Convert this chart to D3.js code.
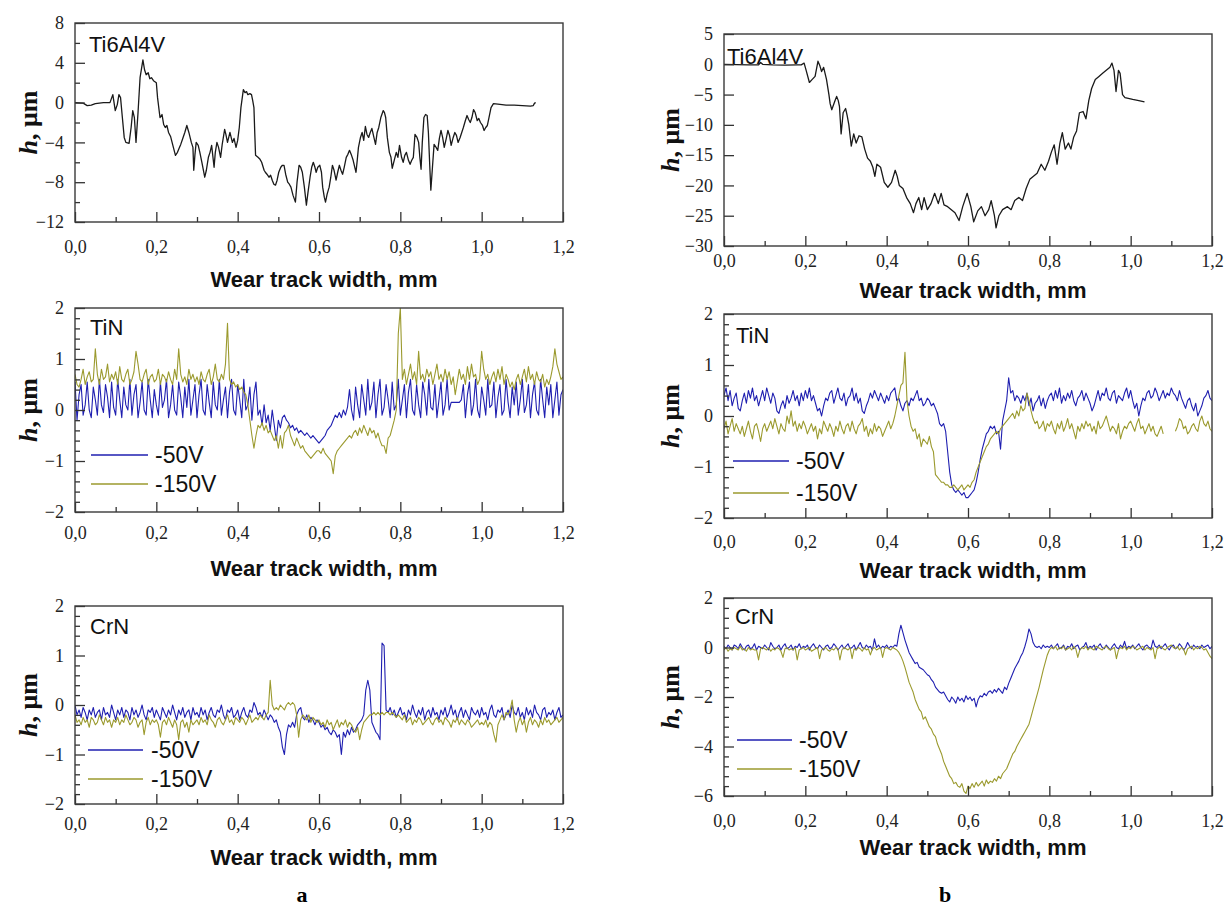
<!DOCTYPE html>
<html>
<head>
<meta charset="utf-8">
<script src="https://cdn.jsdelivr.net/npm/d3@7"></script>
<style>
  body { margin: 0; background: #fff; }
</style>
</head>
<body>
<script>
const STEP = 0.005;

// Ti6Al4V substrate, [x mm, h um]
const tiA = [[0,0],[0.02,-0.05],[0.03,-0.3],[0.04,-0.25],[0.05,-0.1],[0.07,0],[0.086,0],[0.093,0.8],[0.099,-0.8],[0.104,-0.2],[0.108,0.8],[0.112,0.5],[0.116,-1.3],[0.121,-3.5],[0.125,-4],[0.133,-4.1],[0.138,-2.5],[0.142,-0.8],[0.146,-1.5],[0.15,-4],[0.155,-1],[0.16,2.5],[0.167,4.3],[0.171,3.3],[0.175,2.8],[0.18,3.0],[0.184,2.4],[0.188,2.5],[0.193,2.2],[0.2,2.0],[0.203,0.5],[0.209,-1.5],[0.214,-1.2],[0.218,-2.2],[0.222,-2.5],[0.226,-2.3],[0.23,-3.0],[0.235,-3.4],[0.24,-4.2],[0.247,-5.3],[0.252,-5.0],[0.256,-4.6],[0.26,-4.2],[0.265,-3.6],[0.27,-3.0],[0.275,-2.3],[0.28,-3.0],[0.286,-4.0],[0.29,-4.5],[0.292,-6.8],[0.295,-5.2],[0.298,-4.0],[0.303,-4.3],[0.307,-5.0],[0.312,-6.0],[0.319,-7.5],[0.323,-6.8],[0.328,-5.5],[0.332,-5.0],[0.336,-4.3],[0.342,-6.5],[0.345,-5.0],[0.349,-4.0],[0.353,-4.5],[0.358,-5.5],[0.362,-4.2],[0.368,-2.7],[0.371,-3.2],[0.375,-4.0],[0.381,-3.0],[0.387,-4.0],[0.391,-3.6],[0.396,-4.5],[0.4,-3.8],[0.404,-2.5],[0.408,-0.5],[0.414,1.3],[0.418,1.0],[0.422,1.1],[0.425,0.8],[0.43,0.9],[0.434,0.8],[0.437,0.2],[0.44,-0.5],[0.442,-3.0],[0.444,-5.3],[0.45,-5.5],[0.455,-5.7],[0.459,-6.0],[0.465,-6.8],[0.468,-7.0],[0.472,-7.2],[0.477,-7.5],[0.481,-7.3],[0.485,-7.8],[0.489,-8.2],[0.493,-8.3],[0.497,-7.8],[0.501,-7.0],[0.506,-6.5],[0.51,-6.3],[0.514,-6.3],[0.518,-7.2],[0.523,-8.0],[0.527,-8.2],[0.531,-8.5],[0.536,-9.3],[0.542,-10.0],[0.546,-8.0],[0.551,-6.3],[0.555,-6.5],[0.559,-7.0],[0.564,-8.5],[0.569,-10.3],[0.573,-9.0],[0.578,-7.5],[0.582,-6.5],[0.586,-6.0],[0.59,-6.5],[0.593,-7.0],[0.597,-6.5],[0.602,-6.3],[0.606,-7.0],[0.609,-8.5],[0.613,-9.5],[0.616,-10.0],[0.62,-9.2],[0.625,-8.5],[0.629,-7.5],[0.633,-6.3],[0.637,-6.8],[0.642,-7.8],[0.646,-7.0],[0.65,-6.3],[0.654,-6.8],[0.658,-7.2],[0.662,-6.5],[0.667,-5.5],[0.671,-5.2],[0.675,-4.8],[0.68,-5.3],[0.684,-5.8],[0.688,-6.5],[0.691,-7.0],[0.694,-5.8],[0.697,-4.5],[0.702,-3.5],[0.706,-3.0],[0.71,-3.8],[0.714,-2.4],[0.718,-3.2],[0.722,-3.5],[0.726,-3.0],[0.73,-2.6],[0.735,-3.5],[0.739,-4.2],[0.743,-3.0],[0.747,-2.5],[0.752,-1.5],[0.758,-0.8],[0.761,-1.0],[0.764,-1.5],[0.768,-3.5],[0.773,-5.0],[0.777,-5.5],[0.78,-6.6],[0.785,-5.8],[0.79,-5.0],[0.794,-5.5],[0.798,-4.3],[0.803,-5.5],[0.807,-6.0],[0.811,-5.3],[0.815,-5.0],[0.82,-5.8],[0.824,-6.2],[0.828,-5.8],[0.832,-5.5],[0.836,-3.2],[0.841,-3.5],[0.845,-4.0],[0.848,-5.5],[0.851,-6.7],[0.854,-4.0],[0.858,-1.5],[0.862,-1.2],[0.866,-1.3],[0.869,-3.0],[0.872,-6.0],[0.875,-8.8],[0.879,-6.5],[0.883,-4.2],[0.888,-4.5],[0.892,-4.8],[0.896,-3.6],[0.9,-2.8],[0.904,-3.5],[0.908,-4.5],[0.913,-3.6],[0.917,-2.8],[0.921,-3.3],[0.925,-4.3],[0.93,-3.5],[0.934,-3.0],[0.938,-3.3],[0.942,-4.0],[0.947,-3.5],[0.951,-3.0],[0.955,-2.5],[0.96,-1.8],[0.964,-1.3],[0.968,-1.7],[0.972,-2.0],[0.976,-1.5],[0.98,-0.7],[0.984,-1.0],[0.989,-1.8],[0.993,-1.6],[0.997,-2.0],[1.002,-2.3],[1.006,-2.8],[1.01,-2.5],[1.014,-2.3],[1.018,-1.5],[1.023,-0.5],[1.029,-0.1],[1.04,-0.15],[1.06,-0.25],[1.08,-0.25],[1.1,-0.3],[1.12,-0.35],[1.127,-0.3],[1.13,-0.05],[1.133,0]];

const tiB = [[0,0],[0.03,-0.05],[0.06,-0.1],[0.085,-0.1],[0.09,0.3],[0.095,0],[0.12,-0.1],[0.15,-0.15],[0.18,-0.1],[0.19,-0.1],[0.197,0.2],[0.202,-1.0],[0.21,-3.0],[0.217,-2.5],[0.224,-2.0],[0.231,0.5],[0.236,-0.3],[0.24,-1.2],[0.245,-0.5],[0.252,-2.5],[0.258,-5.0],[0.261,-6.5],[0.265,-7.5],[0.272,-6.2],[0.277,-5.3],[0.281,-6.0],[0.284,-7.0],[0.288,-11.5],[0.293,-8.0],[0.299,-7.3],[0.303,-8.5],[0.307,-10.0],[0.313,-13.5],[0.319,-11.5],[0.325,-13.0],[0.332,-11.8],[0.339,-12.0],[0.346,-14.0],[0.353,-15.5],[0.36,-16.0],[0.366,-17.0],[0.371,-18.5],[0.376,-16.5],[0.385,-17.0],[0.394,-19.5],[0.403,-20.3],[0.412,-19.5],[0.421,-17.5],[0.426,-18.5],[0.431,-20.0],[0.44,-20.5],[0.449,-22.0],[0.458,-23.0],[0.466,-24.5],[0.472,-23.0],[0.479,-22.0],[0.486,-24.0],[0.492,-22.0],[0.5,-24.0],[0.509,-23.0],[0.518,-21.3],[0.527,-23.0],[0.534,-21.3],[0.541,-23.2],[0.55,-23.5],[0.559,-24.0],[0.568,-24.5],[0.578,-25.8],[0.587,-23.5],[0.598,-21.3],[0.607,-23.5],[0.614,-26.0],[0.624,-24.2],[0.633,-23.5],[0.642,-25.0],[0.651,-24.0],[0.657,-22.5],[0.665,-25.0],[0.669,-27.0],[0.676,-25.0],[0.685,-24.0],[0.697,-23.5],[0.706,-24.0],[0.715,-22.5],[0.725,-22.0],[0.734,-22.5],[0.743,-20.5],[0.752,-19.0],[0.761,-18.5],[0.77,-18.0],[0.78,-16.5],[0.789,-17.5],[0.798,-16.0],[0.805,-14.5],[0.812,-13.3],[0.819,-16.5],[0.826,-13.0],[0.832,-11.3],[0.839,-14.0],[0.847,-13.0],[0.853,-14.0],[0.86,-12.0],[0.867,-11.0],[0.874,-8.0],[0.883,-7.8],[0.89,-9.0],[0.897,-6.0],[0.904,-4.0],[0.913,-2.5],[0.922,-2.0],[0.931,-1.5],[0.94,-1.0],[0.949,-0.5],[0.954,0.2],[0.959,-1.0],[0.964,-4.5],[0.97,-1.0],[0.974,-1.5],[0.98,-5.0],[0.986,-5.5],[1.005,-5.8],[1.02,-6.0],[1.034,-6.2]];

// TiN, panel a
const tinA50 = [
  0.55,-0.2,0.3,0.5,-0.1,0.1,0.55,0.0,-0.15,0.45,0.2,-0.1,0.6,0.1,-0.05,0.5,0.25,-0.15,0.55,0.05,
  -0.1,0.6,0.2,-0.15,0.45,0.1,0.0,0.6,-0.1,0.3,0.5,-0.15,0.15,0.55,0.0,-0.1,0.6,0.2,-0.15,0.4,
  0.1,-0.1,0.55,0.05,0.2,0.6,-0.15,0.1,0.5,0.0,-0.1,0.55,0.25,-0.15,0.45,0.05,0.6,-0.1,0.2,0.5,
  -0.15,0.3,0.6,0.0,-0.1,0.5,0.15,-0.15,0.55,0.1,0.0,0.6,-0.1,0.2,0.45,-0.15,0.35,0.6,0.0,-0.1,
  0.5,0.2,-0.15,0.6,0.0,0.1,0.45,-0.2,0.3,0.55,-0.1,0.0,-0.3,0.1,-0.25,-0.1,-0.4,0.0,-0.3,-0.6,
  -0.2,-0.35,-0.15,-0.1,-0.2,-0.25,-0.35,-0.3,-0.4,-0.35,-0.45,-0.4,-0.45,-0.5,-0.45,-0.5,-0.55,-0.5,-0.55,-0.6,
  -0.65,-0.6,-0.55,-0.5,-0.4,-0.35,-0.3,-0.2,-0.1,-0.15,-0.05,-0.15,0.0,-0.1,0.05,0.4,0.0,-0.2,0.45,0.1,
  -0.15,0.5,0.2,-0.1,0.6,0.0,0.15,0.55,-0.15,0.3,0.6,-0.1,0.05,0.5,0.2,-0.15,0.55,0.0,0.1,0.6,
  -0.1,0.2,0.5,-0.15,0.35,0.6,0.0,-0.1,0.5,0.1,-0.15,0.55,0.3,-0.1,0.6,0.05,0.0,0.5,-0.15,0.2,
  0.55,-0.1,0.1,0.6,0.0,0.15,0.15,0.15,0.15,0.15,0.2,0.5,-0.15,0.3,0.55,-0.1,0.1,0.6,0.0,-0.15,
  0.45,0.2,-0.1,0.6,0.05,0.1,0.55,-0.15,0.25,0.5,-0.1,0.0,0.6,0.15,-0.15,0.45,0.1,0.55,-0.1,0.2,
  0.6,-0.05,0.1,0.5,-0.15,0.3,0.55,0.0,-0.1,0.6,0.2,-0.15,0.45,0.1,0.5,-0.15,0.2,0.55,-0.1,0.3,
  0.4];
const tinA150 = [
  0.7,0.5,0.45,0.6,0.8,0.5,0.65,0.75,0.55,0.6,1.2,0.7,0.5,0.8,0.6,0.65,0.9,0.55,0.7,0.6,
  0.75,0.5,0.85,0.6,0.55,0.7,0.8,0.5,0.6,0.75,1.15,0.9,0.6,0.55,0.7,0.8,0.5,0.65,0.7,0.55,
  0.6,0.8,0.5,0.7,0.65,0.55,0.75,0.6,0.5,0.8,0.6,1.2,0.7,0.55,0.65,0.5,0.8,0.6,0.7,0.55,
  0.65,0.5,0.75,0.6,0.55,0.7,0.8,0.5,0.65,0.9,0.6,0.55,0.7,0.6,0.9,1.7,0.6,0.5,0.55,0.45,
  0.5,0.4,0.45,0.35,0.3,0.1,-0.2,-0.5,-0.75,-0.5,-0.3,-0.35,-0.25,-0.4,-0.3,-0.45,-0.4,-0.5,-0.6,-0.5,
  -0.75,-0.5,-0.75,-0.45,-0.4,-0.3,-0.5,-0.6,-0.7,-0.55,-0.65,-0.75,-0.7,-0.8,-0.85,-0.9,-0.95,-0.9,-0.85,-0.8,
  -0.8,-0.85,-0.75,-0.85,-0.9,-0.95,-1.0,-1.25,-0.9,-0.8,-0.75,-0.7,-0.65,-0.6,-0.55,-0.5,-0.55,-0.45,-0.4,-0.5,
  -0.35,-0.45,-0.3,-0.4,-0.5,-0.35,-0.45,-0.4,-0.55,-0.45,-0.6,-0.7,-0.7,-0.85,-0.55,-0.5,-0.35,-0.2,0.0,1.5,
  2.0,0.6,0.8,0.5,0.7,0.9,0.6,0.75,0.5,1.15,0.6,0.7,0.55,0.8,0.65,0.75,0.5,0.7,0.9,0.6,
  0.7,0.55,0.8,0.6,0.75,0.5,0.65,0.3,0.55,0.8,0.6,0.7,0.5,0.85,0.6,0.9,0.65,0.7,0.5,0.6,
  1.15,0.8,0.6,0.7,0.5,0.65,0.75,0.55,0.8,0.6,0.85,0.5,0.7,0.6,0.45,0.55,0.4,0.6,0.7,0.5,
  0.65,0.8,0.55,0.85,0.6,0.7,0.5,0.75,0.6,0.55,0.7,0.45,0.6,0.5,0.65,0.85,1.2,0.9,0.75,0.6,
  0.65];

// CrN, panel a
const crnA50 = [
  0.0,-0.2,-0.1,-0.25,-0.05,-0.15,-0.3,-0.1,-0.2,-0.05,-0.25,-0.15,-0.1,-0.3,-0.05,-0.2,-0.15,-0.25,0.0,-0.15,
  -0.3,-0.1,-0.2,-0.05,-0.25,-0.1,-0.15,-0.3,-0.05,-0.2,-0.1,-0.25,-0.15,0.0,-0.2,-0.3,-0.1,-0.15,-0.05,-0.25,
  -0.1,-0.2,-0.3,-0.05,-0.15,-0.25,-0.1,-0.2,0.0,-0.15,-0.3,-0.1,-0.2,-0.05,-0.25,-0.15,-0.1,-0.3,-0.05,-0.2,
  -0.15,-0.25,-0.05,-0.2,-0.1,-0.3,-0.15,-0.05,-0.2,-0.25,-0.1,-0.15,0.0,-0.2,-0.3,-0.1,-0.15,-0.05,-0.25,-0.2,
  -0.1,-0.3,-0.15,-0.05,-0.2,-0.25,-0.1,-0.15,0.05,-0.05,-0.2,-0.15,-0.25,-0.1,-0.2,-0.3,-0.2,-0.25,-0.35,-0.3,
  -0.45,-0.55,-0.85,-1.0,-0.6,-0.4,-0.45,-0.35,-0.45,-0.2,-0.1,-0.05,-0.25,-0.3,-0.2,-0.35,-0.25,-0.3,-0.4,-0.3,
  -0.35,-0.45,-0.4,-0.5,-0.45,-0.55,-0.6,-0.5,-0.55,-0.65,-0.6,-1.0,-0.55,-0.65,-0.5,-0.6,-0.45,-0.55,-0.5,-0.4,
  -0.35,-0.3,-0.2,0.3,0.5,0.3,-0.35,-0.45,-0.55,-0.6,-0.7,1.25,1.2,-0.1,-0.15,-0.05,-0.2,-0.1,-0.25,-0.15,
  -0.05,-0.2,-0.15,-0.3,-0.1,-0.2,0.0,-0.15,-0.25,-0.1,-0.2,-0.05,-0.3,-0.15,-0.1,-0.25,-0.05,-0.2,-0.15,-0.3,
  -0.1,-0.2,-0.05,-0.25,-0.15,0.0,-0.2,-0.1,-0.3,-0.15,-0.05,-0.25,-0.1,-0.2,-0.3,-0.05,-0.15,-0.2,-0.1,-0.25,
  -0.05,-0.2,-0.15,-0.3,-0.1,0.0,-0.2,-0.25,-0.1,-0.15,-0.05,-0.3,-0.2,-0.1,-0.25,0.0,-0.15,-0.2,-0.05,-0.25,
  -0.15,-0.3,-0.05,-0.2,-0.1,-0.25,0.0,-0.15,-0.2,-0.3,-0.1,-0.05,-0.25,-0.15,-0.2,-0.1,-0.3,-0.15,-0.05,-0.25,
  -0.2];
const crnA150 = [
  -0.2,-0.35,-0.3,-0.4,-0.25,-0.35,-0.3,-0.45,-0.25,-0.3,-0.4,-0.35,-0.2,-0.3,-0.4,-0.25,-0.35,-0.3,-0.45,-0.3,
  -0.35,-0.25,-0.4,-0.3,-0.35,-0.2,-0.3,-0.4,-0.35,-0.25,-0.3,-0.45,-0.35,-0.3,-0.6,-0.35,-0.25,-0.4,-0.3,-0.35,
  -0.3,-0.4,-0.65,-0.35,-0.3,-0.4,-0.25,-0.35,-0.45,-0.3,-0.4,-0.7,-0.35,-0.3,-0.45,-0.35,-0.55,-0.3,-0.4,-0.35,
  -0.3,-0.4,-0.25,-0.35,-0.3,-0.4,-0.2,-0.3,-0.35,-0.45,-0.3,-0.25,-0.35,-0.4,-0.3,-0.2,-0.35,-0.3,-0.4,-0.25,
  -0.3,-0.35,-0.25,-0.3,-0.4,-0.3,-0.2,-0.35,-0.3,-0.25,-0.3,-0.2,-0.25,-0.3,-0.2,-0.15,0.5,0.0,-0.1,-0.05,
  -0.1,0.0,-0.05,-0.1,0.0,0.05,0.0,0.05,0.0,-0.2,-0.65,-0.3,-0.2,-0.25,-0.3,-0.2,-0.35,-0.25,-0.3,-0.35,
  -0.3,-0.4,-0.35,-0.45,-0.3,-0.4,-0.35,-0.5,-0.4,-0.3,-0.45,-0.35,-0.4,-0.3,-0.45,-0.35,-0.4,-0.5,-0.55,-0.45,
  -0.7,-0.5,-0.35,-0.3,-0.25,-0.2,-0.2,-0.15,-0.2,-0.15,-0.2,-0.15,-0.2,-0.15,-0.15,-0.2,-0.15,-0.2,-0.25,-0.2,
  -0.25,-0.3,-0.2,-0.35,-0.3,-0.25,-0.4,-0.3,-0.35,-0.25,-0.3,-0.4,-0.35,-0.3,-0.25,-0.35,-0.4,-0.3,-0.25,-0.35,
  -0.3,-0.4,-0.25,-0.3,-0.35,-0.45,-0.3,-0.35,-0.25,-0.4,-0.3,-0.35,-0.4,-0.3,-0.35,-0.45,-0.4,-0.35,-0.3,-0.4,
  -0.35,-0.4,-0.3,-0.45,-0.35,-0.4,-0.6,-0.75,-0.4,-0.3,-0.2,-0.3,-0.15,-0.2,-0.1,0.1,-0.3,-0.55,-0.35,-0.25,
  -0.4,-0.3,-0.55,-0.35,-0.25,-0.4,-0.3,-0.35,-0.45,-0.3,-0.4,-0.25,-0.35,-0.3,-0.4,-0.35,-0.3,-0.25,-0.35,-0.3,
  -0.25];

// TiN, panel b
const tinB50 = [
  0.4,0.55,0.3,0.5,0.2,0.35,0.45,0.15,0.1,0.3,0.45,0.25,0.5,0.35,0.55,0.3,0.4,0.2,0.35,0.5,
  0.3,0.55,0.4,0.25,0.45,0.35,0.1,0.05,0.2,0.3,0.15,0.4,0.25,0.35,0.5,0.3,0.4,0.2,0.45,0.3,
  0.5,0.35,0.55,0.3,0.4,0.25,0.1,0.15,0.0,0.2,0.35,0.3,0.45,0.5,0.25,0.4,0.55,0.35,0.3,0.45,
  0.2,0.35,0.4,0.55,0.3,0.45,0.25,0.35,0.1,0.05,0.2,0.3,0.45,0.35,0.5,0.4,0.3,0.45,0.35,0.25,
  0.4,0.3,0.45,0.5,0.55,0.3,0.35,0.2,0.1,0.25,0.3,0.2,0.35,0.3,0.4,0.5,0.3,0.35,0.2,0.25,
  0.35,0.3,0.2,0.25,0.15,0.05,-0.15,-0.2,-0.15,-0.3,-0.7,-1.1,-1.35,-1.45,-1.5,-1.45,-1.5,-1.55,-1.5,-1.6,
  -1.6,-1.55,-1.5,-1.45,-1.3,-1.1,-0.85,-0.65,-0.5,-0.35,-0.3,-0.2,-0.25,-0.2,-0.35,-0.3,-0.65,-0.1,0.1,0.3,
  0.75,0.45,0.5,0.3,0.4,0.35,0.25,0.4,0.3,0.45,0.2,0.35,0.1,0.25,0.3,0.4,0.2,0.35,0.15,0.3,
  0.4,0.45,0.3,0.5,0.35,0.55,0.25,0.4,0.3,0.45,0.35,0.5,0.3,0.2,0.35,0.4,0.5,0.3,0.45,0.35,
  0.25,0.1,0.2,0.35,0.5,0.3,0.45,0.4,0.55,0.35,0.3,0.45,0.5,0.25,0.4,0.35,0.3,0.45,0.55,0.35,
  0.5,0.3,0.15,0.25,0.0,0.2,0.35,0.3,0.45,0.5,0.35,0.4,0.55,0.45,0.3,0.4,0.5,0.35,0.45,0.4,
  0.55,0.45,0.4,0.3,0.5,0.35,0.25,0.15,0.3,0.35,0.2,0.1,0.25,0.0,0.1,0.2,0.35,0.4,0.5,0.35,
  0.3];
const tinB150 = [
  -0.25,-0.1,-0.35,-0.2,-0.05,-0.3,-0.15,-0.25,-0.35,-0.2,-0.4,-0.25,-0.1,-0.3,-0.45,-0.2,-0.15,-0.3,-0.5,-0.25,
  -0.15,-0.3,-0.2,-0.1,-0.25,-0.05,-0.2,-0.35,-0.15,-0.25,-0.3,0.0,-0.15,0.1,-0.2,-0.1,-0.3,-0.15,-0.25,-0.1,
  -0.2,-0.35,-0.25,-0.15,-0.3,-0.2,-0.45,-0.25,-0.35,-0.1,-0.2,-0.3,-0.15,-0.25,-0.4,-0.2,-0.3,-0.1,-0.25,-0.35,
  -0.2,-0.15,-0.3,-0.1,-0.25,-0.35,-0.2,-0.15,-0.05,-0.3,-0.2,-0.4,-0.25,-0.35,-0.15,-0.3,-0.2,-0.25,-0.4,-0.3,
  -0.2,-0.1,-0.25,-0.15,0.0,0.2,0.4,0.6,0.65,1.25,0.3,0.0,-0.2,-0.3,-0.25,-0.45,-0.35,-0.6,-0.45,-0.5,
  -0.55,-0.4,-0.6,-0.7,-1.15,-1.2,-1.25,-1.3,-1.3,-1.35,-1.35,-1.4,-1.4,-1.35,-1.4,-1.45,-1.4,-1.35,-1.45,-1.4,
  -1.35,-1.4,-1.3,-1.25,-1.1,-1.0,-0.9,-0.8,-0.7,-0.6,-0.55,-0.45,-0.4,-0.35,-0.3,-0.35,-0.25,-0.2,-0.15,-0.1,
  -0.05,0.0,0.05,-0.05,0.1,0.0,0.2,0.1,0.15,0.45,0.3,0.1,-0.05,-0.15,-0.1,-0.25,-0.2,-0.1,-0.3,-0.15,
  -0.2,-0.1,-0.25,-0.35,-0.15,-0.25,-0.1,-0.3,-0.2,-0.05,-0.25,-0.15,-0.3,-0.45,-0.2,-0.3,-0.15,-0.25,-0.1,-0.2,
  -0.15,-0.3,-0.2,-0.35,-0.1,-0.25,-0.2,-0.1,0.0,-0.15,-0.3,-0.2,-0.25,-0.35,-0.15,-0.45,-0.3,-0.2,-0.25,-0.15,
  -0.1,-0.2,-0.3,-0.15,-0.05,-0.25,-0.2,-0.35,-0.25,-0.15,-0.3,-0.2,-0.35,-0.4,-0.3,-0.2,-0.35,null,null,null,
  null,null,-0.3,-0.2,-0.05,-0.1,-0.25,-0.2,-0.35,-0.3,-0.2,-0.15,-0.25,-0.3,-0.1,0.0,-0.15,-0.2,-0.1,-0.25,
  -0.3];

// CrN, panel b
const crnB50 = [
  0.05,-0.05,0.1,0.0,-0.1,0.1,0.05,-0.05,0.15,0.0,-0.1,0.05,0.1,-0.05,0.0,0.15,-0.1,0.05,0.0,-0.05,
  0.1,0.0,-0.1,0.2,0.05,-0.05,0.0,0.1,-0.1,0.05,0.15,-0.05,0.0,0.1,-0.1,0.05,0.0,0.15,-0.05,0.05,
  0.0,0.1,-0.1,0.05,0.15,0.0,-0.05,0.1,0.0,-0.1,0.05,0.1,-0.05,0.0,0.15,0.05,-0.1,0.0,0.1,-0.05,
  0.05,0.15,-0.05,0.0,0.1,-0.1,0.05,0.2,0.0,-0.05,0.1,0.0,0.05,-0.1,0.35,0.0,0.1,-0.05,0.05,0.0,
  0.1,-0.05,0.05,0.0,0.1,0.05,0.55,0.9,0.6,0.3,0.05,-0.2,-0.35,-0.5,-0.65,-0.6,-0.8,-0.85,-0.9,-1.0,
  -1.1,-1.15,-1.3,-1.4,-1.6,-1.7,-1.8,-1.85,-1.8,-1.95,-2.1,-2.2,-2.0,-2.1,-2.25,-2.0,-2.15,-2.05,-2.2,-1.95,
  -2.1,-2.0,-2.15,-2.05,-2.4,-2.1,-1.95,-2.0,-1.85,-1.95,-1.8,-1.75,-1.85,-1.7,-1.8,-1.65,-1.75,-1.85,-1.6,-1.7,
  -1.45,-1.25,-1.05,-0.85,-0.7,-0.55,-0.35,-0.2,0.05,0.35,0.75,0.55,0.2,0.05,0.0,0.05,-0.05,0.1,0.0,0.05,
  0.0,0.1,-0.05,0.05,0.15,-0.05,0.0,0.1,-0.1,0.05,0.0,0.15,-0.05,0.05,0.1,-0.1,0.0,0.05,0.2,-0.05,
  0.05,0.0,0.1,-0.1,0.05,0.15,0.0,-0.05,0.1,0.0,-0.1,0.05,0.15,0.0,-0.05,0.1,0.0,0.25,-0.05,0.05,
  0.0,0.1,-0.05,0.05,0.15,0.0,-0.1,0.05,0.1,0.0,-0.05,0.3,0.05,0.0,0.1,-0.05,0.05,0.15,0.0,-0.1,
  0.05,0.1,-0.05,0.0,0.15,0.05,-0.1,0.0,0.2,0.05,-0.05,0.1,0.0,0.05,-0.05,0.1,0.0,0.05,0.1,-0.05,
  0.05];
const crnB150 = [
  -0.1,0.0,-0.15,-0.05,-0.1,0.0,-0.05,-0.1,0.05,-0.1,-0.05,-0.15,0.0,-0.1,-0.05,-0.1,-0.1,-0.5,-0.05,0.0,
  -0.05,-0.1,0.0,-0.15,-0.05,-0.1,0.0,-0.05,-0.15,-0.4,-0.05,0.0,-0.1,-0.05,-0.1,0.0,-0.5,-0.1,-0.05,0.0,
  -0.1,-0.05,0.0,-0.15,-0.1,-0.05,0.0,-0.45,-0.1,-0.05,0.0,-0.1,-0.15,-0.05,-0.1,0.0,-0.05,-0.5,-0.1,0.0,
  -0.05,-0.1,0.0,-0.45,-0.05,-0.1,0.0,-0.05,-0.15,0.0,-0.1,-0.05,-0.3,-0.05,0.0,-0.1,-0.05,0.0,-0.4,-0.05,
  0.0,-0.05,-0.1,0.0,-0.05,-0.1,-0.2,-0.35,-0.55,-0.8,-1.1,-1.4,-1.6,-1.8,-2.1,-2.3,-2.5,-2.6,-2.9,-2.8,
  -3.0,-3.2,-3.3,-3.5,-3.6,-3.9,-4.1,-4.3,-4.6,-4.8,-5.0,-5.2,-5.3,-5.5,-5.45,-5.6,-5.65,-5.5,-5.8,-5.9,
  -5.6,-5.7,-5.5,-5.65,-5.45,-5.6,-5.5,-5.4,-5.6,-5.35,-5.5,-5.4,-5.45,-5.3,-5.4,-5.2,-5.3,-5.1,-5.0,-4.9,
  -4.7,-4.5,-4.3,-4.2,-4.0,-3.85,-3.7,-3.55,-3.4,-3.25,-3.1,-2.8,-2.5,-2.2,-1.9,-1.6,-1.25,-0.9,-0.6,-0.3,
  -0.1,0.0,-0.05,0.05,-0.1,0.0,-0.05,0.05,-0.1,-0.05,0.0,-0.1,0.05,-0.05,-0.4,-0.1,0.0,-0.05,0.05,-0.1,
  0.0,-0.05,-0.1,0.05,0.0,-0.05,-0.1,0.0,0.05,-0.05,-0.1,-0.05,0.0,-0.45,-0.1,0.0,-0.05,0.05,-0.1,0.0,
  -0.05,0.05,0.0,-0.1,-0.05,0.0,0.05,-0.1,0.0,-0.05,-0.1,0.0,-0.45,-0.05,0.0,0.05,-0.05,-0.1,0.0,0.05,
  0.1,0.0,-0.05,0.05,-0.1,0.0,-0.05,-0.3,-0.05,0.0,0.05,-0.1,0.0,-0.05,0.05,0.0,-0.1,-0.05,-0.2,-0.35,
  -0.45];

const xTicks = [0, 0.2, 0.4, 0.6, 0.8, 1.0, 1.2];
const xMinor = [0.1, 0.3, 0.5, 0.7, 0.9, 1.1];
const voltages = ["-50V", "-150V"];

const ink = "#1a1a1a", blue = "#1f1fb0", olive = "#9b9a2e";
const serif = "'Liberation Serif', 'Times New Roman', serif";
const sans = "'Liberation Sans', Arial, sans-serif";

const sampled = vals => vals.map((h, i) => [i * STEP, h]);

const svg = d3.select("body").append("svg")
    .attr("width", 1224)
    .attr("height", 909);

const PW = 488;

const panels = [
  { left: 75, top: 23, bottom: 222, yDom: [-12, 8], yStep: 4, yMinor: 2, name: "Ti6Al4V", nameDx: 14, nameDy: 29,
    tickY: 247, titleY: 279, ylx: 28, series: [{ d: tiA, c: ink, w: 1.3 }] },
  { left: 75, top: 308, bottom: 512, yDom: [-2, 2], yStep: 1, yMinor: 0.2, name: "TiN", nameDx: 15, nameDy: 27,
    tickY: 533, titleY: 568, ylx: 28, legY: [455, 484], legX: [16, 73, 80],
    series: [{ d: sampled(tinA50), c: blue }, { d: sampled(tinA150), c: olive }] },
  { left: 75, top: 606, bottom: 804, yDom: [-2, 2], yStep: 1, yMinor: 0.2, name: "CrN", nameDx: 15, nameDy: 28,
    tickY: 824, titleY: 857, ylx: 28, legY: [750, 779], legX: [13, 68, 76],
    series: [{ d: sampled(crnA50), c: blue }, { d: sampled(crnA150), c: olive }] },
  { left: 724, top: 34, bottom: 246, yDom: [-30, 5], yStep: 5, yMinor: null, name: "Ti6Al4V", nameDx: 3, nameDy: 30,
    tickY: 261, titleY: 290, ylx: 670, series: [{ d: tiB, c: ink, w: 1.3 }] },
  { left: 724, top: 314, bottom: 518, yDom: [-2, 2], yStep: 1, yMinor: 0.2, name: "TiN", nameDx: 12, nameDy: 29,
    tickY: 542, titleY: 570, ylx: 670, legY: [461, 493], legX: [9, 65, 72],
    series: [{ d: sampled(tinB50), c: blue }, { d: sampled(tinB150), c: olive }] },
  { left: 724, top: 598, bottom: 796, yDom: [-6, 2], yStep: 2, yMinor: 0.4, name: "CrN", nameDx: 11, nameDy: 26,
    tickY: 821, titleY: 847, ylx: 670, legY: [740, 769], legX: [13, 68, 75],
    series: [{ d: sampled(crnB50), c: blue }, { d: sampled(crnB150), c: olive }] }
];

const commaFmt = d => d3.format(".1f")(d).replace(".", ",");

function drawPanel(p, k) {
  const x = d3.scaleLinear().domain([0, 1.2]).range([p.left, p.left + PW]);
  const y = d3.scaleLinear().domain(p.yDom).range([p.bottom, p.top]);
  const g = svg.append("g");

  g.append("clipPath").attr("id", "clip" + k)
    .append("rect")
    .attr("x", p.left).attr("y", p.top)
    .attr("width", PW).attr("height", p.bottom - p.top);

  const line = d3.line()
    .defined(d => d[1] != null)
    .x(d => x(d[0]))
    .y(d => y(d[1]));

  g.append("g").attr("clip-path", `url(#clip${k})`)
    .selectAll("path")
    .data(p.series)
    .join("path")
    .attr("d", s => line(s.d))
    .attr("fill", "none")
    .attr("stroke", s => s.c)
    .attr("stroke-width", s => s.w || 1.1)
    .attr("stroke-linejoin", "round");

  // bottom axis, ticks pointing inward
  g.append("g").attr("transform", `translate(0,${p.bottom})`)
    .call(d3.axisBottom(x).tickValues(xTicks).tickSize(-10)
      .tickPadding(p.tickY - p.bottom - 7).tickFormat(commaFmt));
  g.append("g").attr("transform", `translate(0,${p.bottom})`)
    .call(d3.axisBottom(x).tickValues(xMinor).tickSize(-5).tickFormat(""));

  const yMajor = d3.range(p.yDom[0], p.yDom[1] + 1e-9, p.yStep);
  g.append("g").attr("transform", `translate(${p.left},0)`)
    .call(d3.axisLeft(y).tickValues(yMajor).tickSize(-10).tickPadding(11).tickFormat(d3.format("d")));
  if (p.yMinor) {
    const yMin = d3.range(p.yDom[0], p.yDom[1] + 1e-9, p.yMinor)
      .filter(v => Math.abs(v / p.yStep - Math.round(v / p.yStep)) > 1e-6);
    g.append("g").attr("transform", `translate(${p.left},0)`)
      .call(d3.axisLeft(y).tickValues(yMin).tickSize(-5).tickFormat(""));
  }

  g.selectAll(".domain").remove();
  g.selectAll(".tick line").attr("stroke", "#333").attr("stroke-width", 1.3);
  g.selectAll(".tick text")
    .attr("font-family", serif)
    .attr("font-size", 18)
    .attr("fill", "#222");

  // frame
  g.append("rect")
    .attr("x", p.left).attr("y", p.top)
    .attr("width", PW).attr("height", p.bottom - p.top)
    .attr("fill", "none")
    .attr("stroke", "#3a3a3a")
    .attr("stroke-width", 1.4);

  // material label
  g.append("text")
    .attr("x", p.left + p.nameDx).attr("y", p.top + p.nameDy)
    .attr("font-family", sans).attr("font-size", 22).attr("fill", "#111")
    .text(p.name);

  // axis titles
  g.append("text")
    .attr("x", p.left + PW / 2 + 5).attr("y", p.titleY + 8)
    .attr("text-anchor", "middle")
    .attr("font-family", sans).attr("font-weight", "bold").attr("font-size", 22)
    .attr("fill", "#111")
    .text("Wear track width, mm");

  const yl = g.append("text")
    .attr("transform", `translate(${p.ylx},${(p.top + p.bottom) / 2}) rotate(-90)`)
    .attr("text-anchor", "middle")
    .attr("dy", "0.35em")
    .attr("font-family", serif).attr("font-weight", "bold").attr("font-size", 26)
    .attr("fill", "#111");
  yl.append("tspan").attr("font-style", "italic").text("h");
  yl.append("tspan").text(", \u03bcm");

  // legend
  if (p.legY) {
    p.series.forEach((s, i) => {
      g.append("line")
        .attr("x1", p.left + p.legX[0]).attr("x2", p.left + p.legX[1])
        .attr("y1", p.legY[i]).attr("y2", p.legY[i])
        .attr("stroke", s.c).attr("stroke-width", 1.6);
      g.append("text")
        .attr("x", p.left + p.legX[2]).attr("y", p.legY[i] + 8)
        .attr("font-family", sans).attr("font-size", 23).attr("fill", "#111")
        .text(voltages[i]);
    });
  }
}

panels.forEach(drawPanel);

// sub-figure letters
svg.append("text").attr("x", 302).attr("y", 902)
  .attr("text-anchor", "middle")
  .attr("font-family", serif).attr("font-weight", "bold").attr("font-size", 22)
  .text("a");
svg.append("text").attr("x", 945).attr("y", 902)
  .attr("text-anchor", "middle")
  .attr("font-family", serif).attr("font-weight", "bold").attr("font-size", 22)
  .text("b");
</script>
</body>
</html>
